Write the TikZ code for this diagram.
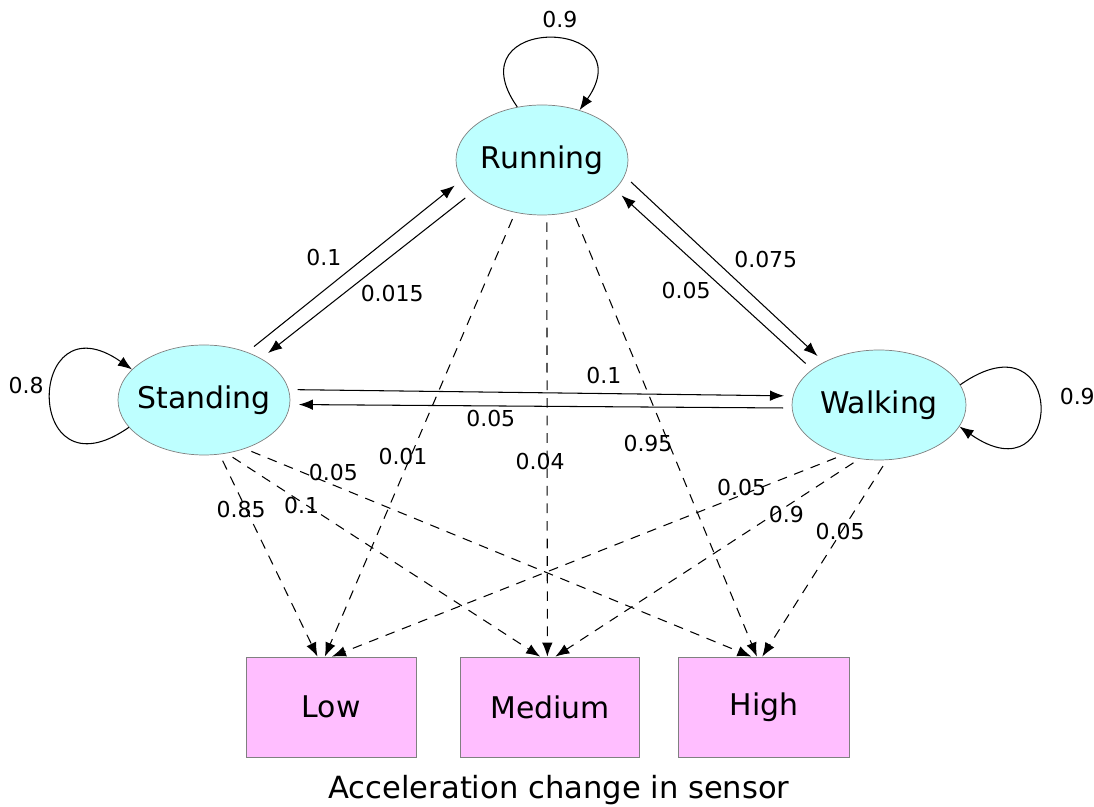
\documentclass[tikz,border=0pt]{standalone}
\usepackage{fontspec}
\setmainfont{DejaVu Sans}
\usetikzlibrary{shapes.geometric,arrows.meta}

\definecolor{statefill}{RGB}{190,255,255}
\definecolor{obsfill}{RGB}{255,190,255}

\tikzset{
  every node/.style={font=\fontsize{12.5}{15}\selectfont},
  state/.style={ellipse,draw=black!50,fill=statefill,inner ysep=0pt,inner xsep=-4pt,
    minimum width=3.44cm,minimum height=2.2cm,font=\fontsize{17}{20}\selectfont},
  obs/.style={rectangle,draw=black!50,fill=obsfill,inner sep=0pt,
    minimum width=3.4cm,minimum height=2cm,font=\fontsize{17}{20}\selectfont},
  trans/.style={-{Latex[length=8pt,width=6pt]},line width=.6pt,shorten <=5pt,shorten >=5pt},
  selfloop/.style={-{Latex[length=8pt,width=6pt]},line width=.6pt},
  emit/.style={-{Latex[length=8pt,width=6pt]},line width=.6pt,
    dash pattern=on 5.5pt off 4.5pt,shorten <=4pt}
}

\begin{document}
\begin{tikzpicture}
      \useasboundingbox (0,0) rectangle (21.88,16.14);

      \node [state] (Running) at (10.84,12.94) {Running};
      \node [state] (Standing) at (4.08,8.14) {Standing};
      \node [state,minimum width=3.48cm] (Walking) at (17.58,8.04) {Walking};
      \node [obs] (Low) at (6.62,2) {Low};
      \node [obs,minimum width=3.58cm] (Medium) at (11,2) {Medium};
      \node [obs,minimum width=3.42cm] (High) at (15.28,2) {High};
      \node [font=\fontsize{17.4}{20}\selectfont] (caption) at (11.18,0.34) {Acceleration change in sensor};

      % self transitions
      \draw [selfloop] (Running.115) .. controls +(125:2.28) and +(55:2.28) .. (Running.53)
        node [pos=.5,xshift=.23cm,yshift=.38cm] {0.9};
      \draw [selfloop] (Standing.200) .. controls +(215:2.6) and +(145:2.6) .. (Standing.157)
        node [pos=.5,xshift=-.49cm,yshift=.25cm] {0.8};
      \draw [selfloop] (Walking.14) .. controls +(35:2.6) and +(-35:2.6) .. (Walking.345)
        node [pos=.5,xshift=.75cm,yshift=.19cm] {0.9};

      % transitions between states
      \draw [trans] (Standing.48) -- (Running.194) node [pos=.4,xshift=-.18cm,yshift=.52cm] {0.1};
      \draw [trans] (Running.205) -- (Standing.36) node [pos=.45,xshift=.3cm,yshift=-.53cm] {0.015};
      \draw [trans] (Running.349) -- (Walking.142) node [pos=.6,xshift=.43cm,yshift=.57cm] {0.075};
      \draw [trans] (Walking.152) -- (Running.338) node [pos=.5,xshift=-.55cm,yshift=-.23cm] {0.05};
      \draw [trans] (Standing.7) -- (Walking.174) node [pos=.65,xshift=-.25cm,yshift=.36cm] {0.1};
      \draw [trans] (Walking.182) -- (Standing.357) node [pos=.6,yshift=-.26cm] {0.05};

      % emissions
      \foreach \from/\a/\to/\b/\p/\dx/\dy/\val in {
          Standing/286/Low/105/.25/-.06/-.1/0.85,
          Standing/293/Medium/101/.25/-.07/-.03/0.1,
          Standing/310/High/104/.16/.15/.19/0.05,
          Running/243/Low/97/.55/-.15/0/0.01,
          Running/275/Medium/93/.55/-.14/-.06/0.04,
          Running/301/High/98/.5/-.34/-.18/0.95,
          Walking/234/Low/89/.18/-.18/.09/0.05,
          Walking/250/Medium/84/.24/0/-.16/0.9,
          Walking/278/High/92/.35/-.06/-.06/0.05}
        \draw [emit] (\from.\a) -- (\to.\b) node [pos=\p,xshift=\dx cm,yshift=\dy cm] {\val};
    \end{tikzpicture}
\end{document}
